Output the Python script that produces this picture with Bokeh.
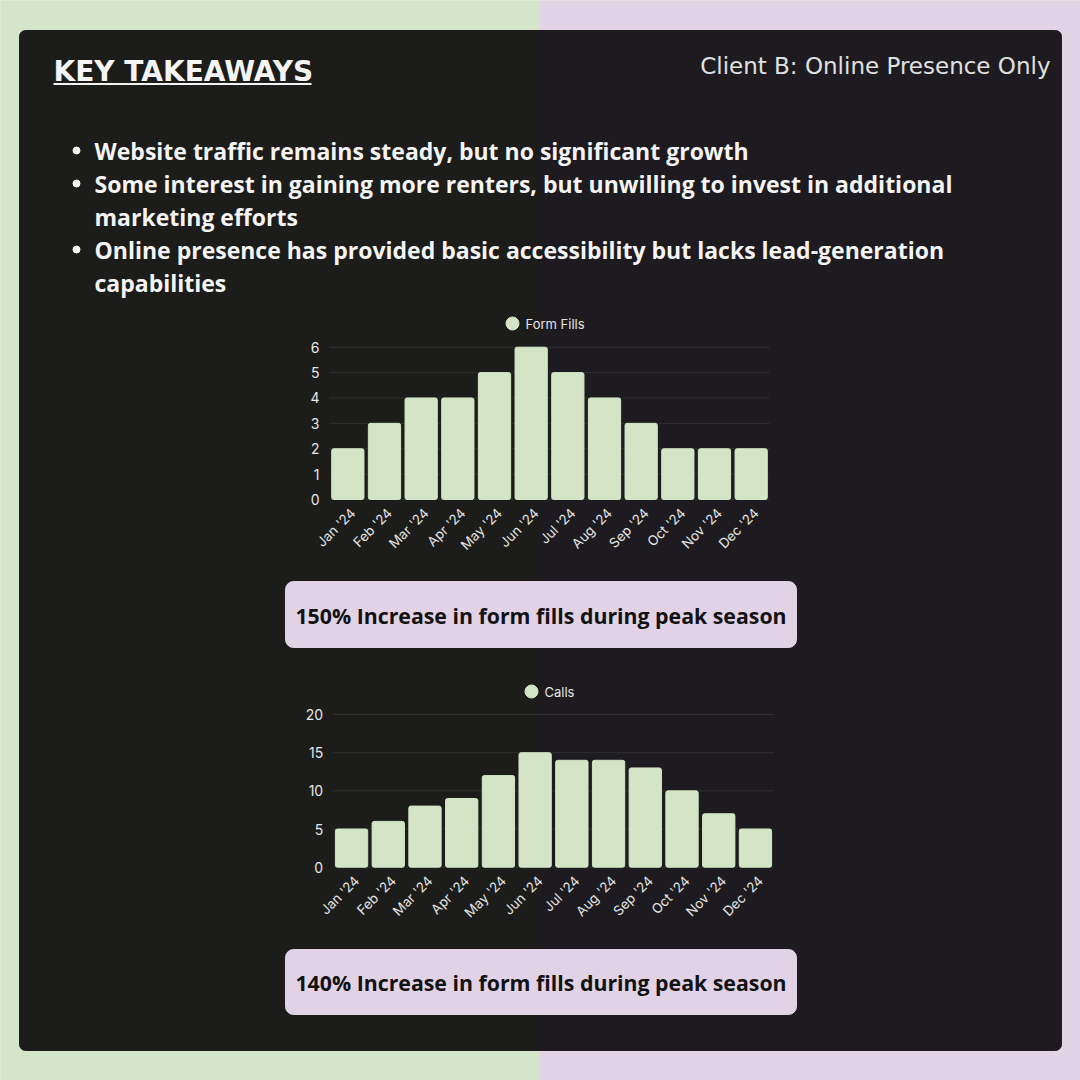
import math
from bokeh.plotting import figure
from bokeh.models import Range1d
from bokeh.core.properties import value
from bokeh.embed import file_html
from bokeh.resources import INLINE

# ---------------- data ----------------
months = ["Jan '24", "Feb '24", "Mar '24", "Apr '24", "May '24", "Jun '24",
          "Jul '24", "Aug '24", "Sep '24", "Oct '24", "Nov '24", "Dec '24"]
form_fills = [2, 3, 4, 4, 5, 6, 5, 4, 3, 2, 2, 2]
calls = [5, 6, 8, 9, 12, 15, 14, 14, 13, 10, 7, 5]
form_ticks = [0, 1, 2, 3, 4, 5, 6]
calls_ticks = [0, 5, 10, 15, 20]
series1 = "Form Fills"
series2 = "Calls"
title = "KEY TAKEAWAYS"
subtitle = "Client B: Online Presence Only"
bullet_lines = [
    ["Website traffic remains steady, but no significant growth"],
    ["Some interest in gaining more renters, but unwilling to invest in additional",
     "marketing efforts"],
    ["Online presence has provided basic accessibility but lacks lead-generation",
     "capabilities"],
]
banner1 = "150% Increase in form fills during peak season"
banner2 = "140% Increase in form fills during peak season"

# ---------------- styles ----------------
GREEN_BG = "#d5e5c9"
PURPLE_BG = "#e2d4e6"
PANEL_L = "#1c1d1a"
PANEL_R = "#1d1b1f"
BAR = "#d3e5c6"
BANNER = "#e2d2e6"
GRID = "#303030"
TXT = "#f4f4f4"
AX_TXT = "#e6e6e6"

W = H = 1080
OFF = 0

p = figure(width=W, height=H, x_range=Range1d(OFF, OFF + W), y_range=Range1d(OFF + H, OFF),
           output_backend="svg", toolbar_location=None, min_border=0,
           x_axis_location=None, y_axis_location=None)
p.grid.visible = False
p.outline_line_color = None
p.background_fill_color = GREEN_BG
p.border_fill_color = GREEN_BG


def lin_range(p0, v0, p1, v1, lo, hi):
    f = lambda s: v0 + (s - p0) * (v1 - v0) / (p1 - p0)
    return Range1d(f(lo), f(hi))


# chart placements (screen pixels of the plot areas)
p.extra_x_ranges = {
    "x1": lin_range(329, -0.5, 769, 11.5, OFF, OFF + W),
    "x2": lin_range(332.7, -0.5, 773.3, 11.5, OFF, OFF + W),
}
p.extra_y_ranges = {
    "y1": lin_range(499, 0, 346.7, 6, OFF + H, OFF),
    "y2": lin_range(866.7, 0, 714, 20, OFF + H, OFF),
}

# backgrounds
p.quad(left=0, right=540, top=0, bottom=1080, color=GREEN_BG)
p.quad(left=540, right=1080, top=0, bottom=1080, color=PURPLE_BG)
p.quad(left=19, right=541, top=30, bottom=1050, color=PANEL_L, border_radius=(6, 0, 0, 6))
p.quad(left=540, right=1061, top=30, bottom=1050, color=PANEL_R, border_radius=(0, 6, 6, 0))

# header
p.text(x=[53], y=[70.5], text=[title], text_font=value("DejaVu Sans"), text_font_style="bold",
       text_font_size="28px", text_color=TXT, text_baseline="middle")
p.segment(x0=[53], x1=[311], y0=[83.5], y1=[83.5], line_color=TXT, line_width=2)
p.text(x=[1050], y=[65], text=[subtitle], text_font=value("DejaVu Sans"),
       text_font_size="23px", text_color="#e0e0e0", text_align="right", text_baseline="middle")

# bullets
y = 150
bx, by, tx, ty, tt = [], [], [], [], []
for lines in bullet_lines:
    bx.append(76)
    by.append(y)
    for ln in lines:
        tx.append(94)
        ty.append(y)
        tt.append(ln)
        y += 33
p.scatter(x=bx, y=by, size=7, color=TXT, marker="circle")
p.text(x=tx, y=ty, text=tt, text_font=value("Open Sans"), text_font_style="bold",
       text_font_size="23px", text_color=TXT, text_baseline="middle")


def bar_chart(vals, ticks, xr, yr, name, leg_x, leg_y, label_off):
    idx = list(range(len(vals)))
    p.segment(x0=[-0.5] * len(ticks), x1=[11.5] * len(ticks), y0=ticks, y1=ticks,
              x_range_name=xr, y_range_name=yr, line_color=GRID, line_width=1)
    p.vbar(x=idx, top=vals, bottom=0, width=0.88, color=BAR, border_radius=2,
           x_range_name=xr, y_range_name=yr)
    p.text(x=[-0.5] * len(ticks), y=ticks, text=[str(t) for t in ticks], x_offset=label_off,
           text_align="right", text_baseline="middle", text_font=value("Inter"),
           text_font_size="14px", text_color=AX_TXT, x_range_name=xr, y_range_name=yr)
    p.text(x=idx, y=[0] * len(idx), text=months, x_offset=5, y_offset=11, angle=math.pi / 4,
           text_align="right", text_baseline="middle", text_font=value("Inter"),
           text_font_size="13.5px", text_color=AX_TXT, x_range_name=xr, y_range_name=yr)
    p.scatter(x=[leg_x], y=[leg_y], size=13, marker="circle", color=BAR)
    p.text(x=[leg_x + 13], y=[leg_y], text=[name], text_font=value("Inter"),
           text_font_size="13px", text_color=AX_TXT, text_baseline="middle")


bar_chart(form_fills, form_ticks, "x1", "y1", series1, 512, 323, -10)
bar_chart(calls, calls_ticks, "x2", "y2", series2, 531, 691, -10)

# banners
for top, bot, txt in [(581, 647, banner1), (949, 1014, banner2)]:
    p.quad(left=285, right=796, top=top, bottom=bot, color=BANNER, border_radius=8)
    p.text(x=[540.5], y=[(top + bot) / 2 + 0.5], text=[txt], text_font=value("Open Sans"),
           text_font_style="bold", text_font_size="21.3px", text_color="#121212",
           text_align="center", text_baseline="middle")

open("out.html", "w").write(file_html(p, INLINE))
